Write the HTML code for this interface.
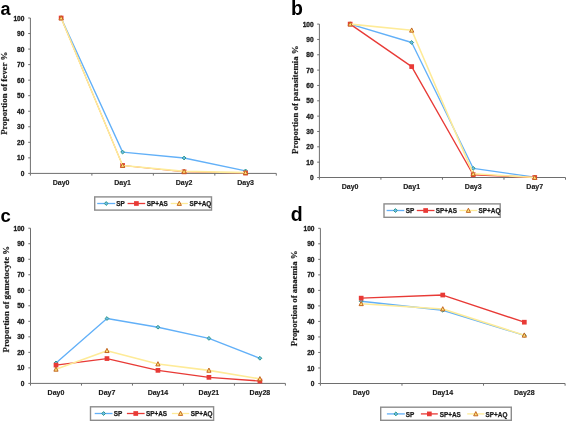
<!DOCTYPE html>
<html><head><meta charset="utf-8"><style>
html,body{margin:0;padding:0;background:#fff;width:567px;height:422px;overflow:hidden}
svg{display:block;will-change:transform}
.yl{font-family:"Liberation Sans",sans-serif;font-weight:bold;font-size:6.6px;fill:#1a1a1a;stroke:#1a1a1a;stroke-width:0.3px;text-anchor:end}
.xl{font-family:"Liberation Sans",sans-serif;font-weight:bold;font-size:7px;fill:#1a1a1a;stroke:#1a1a1a;stroke-width:0.15px;text-anchor:middle}
.lg{font-family:"Liberation Sans",sans-serif;font-weight:bold;font-size:6.4px;fill:#1a1a1a;stroke:#1a1a1a;stroke-width:0.25px}
.pl{font-family:"Liberation Sans",sans-serif;font-weight:bold;font-size:19.5px;fill:#000}
.ti{font-family:"Liberation Serif",serif;font-weight:bold;font-size:8.8px;fill:#1a1a1a;stroke:#1a1a1a;stroke-width:0.2px;text-anchor:middle}
</style></head><body>
<svg width="567" height="422" viewBox="0 0 567 422">
<path d="M30.40 18.00V173.40H276.30" fill="none" stroke="#6e6e6e" stroke-width="1"/>
<path d="M28.20 173.40H30.40 M28.20 157.86H30.40 M28.20 142.32H30.40 M28.20 126.78H30.40 M28.20 111.24H30.40 M28.20 95.70H30.40 M28.20 80.16H30.40 M28.20 64.62H30.40 M28.20 49.08H30.40 M28.20 33.54H30.40 M28.20 18.00H30.40 M30.40 173.40V175.60 M91.88 173.40V175.60 M153.35 173.40V175.60 M214.83 173.40V175.60 M276.30 173.40V175.60" fill="none" stroke="#6e6e6e" stroke-width="1"/>
<text x="24.40" y="176.00" class="yl">0</text>
<text x="24.40" y="160.46" class="yl">10</text>
<text x="24.40" y="144.92" class="yl">20</text>
<text x="24.40" y="129.38" class="yl">30</text>
<text x="24.40" y="113.84" class="yl">40</text>
<text x="24.40" y="98.30" class="yl">50</text>
<text x="24.40" y="82.76" class="yl">60</text>
<text x="24.40" y="67.22" class="yl">70</text>
<text x="24.40" y="51.68" class="yl">80</text>
<text x="24.40" y="36.14" class="yl">90</text>
<text x="24.40" y="20.60" class="yl">100</text>
<text x="61.14" y="185.20" class="xl">Day0</text>
<text x="122.61" y="185.20" class="xl">Day1</text>
<text x="184.09" y="185.20" class="xl">Day2</text>
<text x="245.56" y="185.20" class="xl">Day3</text>
<path d="M61.14 18.00 L122.61 152.11 L184.09 158.02 L245.56 170.91" fill="none" stroke="#62b0f8" stroke-width="1.35" stroke-linejoin="round"/>
<path d="M61.14 16.10L63.04 18.00L61.14 19.90L59.24 18.00Z" fill="#6cb8f0" stroke="#2f9a86" stroke-width="1.0"/>
<path d="M122.61 150.21L124.51 152.11L122.61 154.01L120.71 152.11Z" fill="#6cb8f0" stroke="#2f9a86" stroke-width="1.0"/>
<path d="M184.09 156.12L185.99 158.02L184.09 159.92L182.19 158.02Z" fill="#6cb8f0" stroke="#2f9a86" stroke-width="1.0"/>
<path d="M245.56 169.01L247.46 170.91L245.56 172.81L243.66 170.91Z" fill="#6cb8f0" stroke="#2f9a86" stroke-width="1.0"/>
<path d="M61.14 18.00 L122.61 165.47 L184.09 171.85 L245.56 173.09" fill="none" stroke="#e83a36" stroke-width="0.9" stroke-linejoin="round"/>
<rect x="58.79" y="15.65" width="4.70" height="4.70" fill="#e83a36"/>
<rect x="120.26" y="163.12" width="4.70" height="4.70" fill="#e83a36"/>
<rect x="181.74" y="169.50" width="4.70" height="4.70" fill="#e83a36"/>
<rect x="243.21" y="170.74" width="4.70" height="4.70" fill="#e83a36"/>
<path d="M61.14 18.00 L122.61 165.47 L184.09 171.38 L245.56 172.62" fill="none" stroke="#feeb98" stroke-width="1.6" stroke-linejoin="round"/>
<path d="M61.14 15.70L63.24 19.90L59.04 19.90Z" fill="#fde27a" stroke="#c0601a" stroke-width="0.95" stroke-linejoin="round"/>
<path d="M122.61 163.17L124.71 167.37L120.51 167.37Z" fill="#fde27a" stroke="#c0601a" stroke-width="0.95" stroke-linejoin="round"/>
<path d="M184.09 169.08L186.19 173.28L181.99 173.28Z" fill="#fde27a" stroke="#c0601a" stroke-width="0.95" stroke-linejoin="round"/>
<path d="M245.56 170.32L247.66 174.52L243.46 174.52Z" fill="#fde27a" stroke="#c0601a" stroke-width="0.95" stroke-linejoin="round"/>
<rect x="94.70" y="196.90" width="116.80" height="13.20" fill="#fff" stroke="#8c8c8c" stroke-width="1.4"/>
<path d="M97.20 203.50H115.20" stroke="#62b0f8" stroke-width="1.3"/>
<path d="M106.20 201.60L108.10 203.50L106.20 205.40L104.30 203.50Z" fill="#6cb8f0" stroke="#2f9a86" stroke-width="1.0"/>
<text x="116.30" y="206.30" class="lg">SP</text>
<path d="M127.60 203.50H145.20" stroke="#e83a36" stroke-width="1.3"/>
<rect x="134.05" y="201.15" width="4.70" height="4.70" fill="#e83a36"/>
<text x="146.70" y="206.30" class="lg">SP+AS</text>
<path d="M170.70 203.50H187.90" stroke="#feeb98" stroke-width="1.3"/>
<path d="M179.30 201.20L181.40 205.40L177.20 205.40Z" fill="#fde27a" stroke="#c0601a" stroke-width="0.95" stroke-linejoin="round"/>
<text x="189.40" y="206.30" class="lg">SP+AQ</text>
<text x="0.50" y="15.00" class="pl" style="font-size:18px">a</text>
<text transform="translate(7.20 93.30) rotate(-90)" x="0" y="0" class="ti">Proportion of fever %</text>
<path d="M319.40 24.10V177.50H565.50" fill="none" stroke="#6e6e6e" stroke-width="1"/>
<path d="M317.20 177.50H319.40 M317.20 162.16H319.40 M317.20 146.82H319.40 M317.20 131.48H319.40 M317.20 116.14H319.40 M317.20 100.80H319.40 M317.20 85.46H319.40 M317.20 70.12H319.40 M317.20 54.78H319.40 M317.20 39.44H319.40 M317.20 24.10H319.40 M319.40 177.50V179.70 M380.92 177.50V179.70 M442.45 177.50V179.70 M503.98 177.50V179.70 M565.50 177.50V179.70" fill="none" stroke="#6e6e6e" stroke-width="1"/>
<text x="313.70" y="180.10" class="yl">0</text>
<text x="313.70" y="164.76" class="yl">10</text>
<text x="313.70" y="149.42" class="yl">20</text>
<text x="313.70" y="134.08" class="yl">30</text>
<text x="313.70" y="118.74" class="yl">40</text>
<text x="313.70" y="103.40" class="yl">50</text>
<text x="313.70" y="88.06" class="yl">60</text>
<text x="313.70" y="72.72" class="yl">70</text>
<text x="313.70" y="57.38" class="yl">80</text>
<text x="313.70" y="42.04" class="yl">90</text>
<text x="313.70" y="26.70" class="yl">100</text>
<text x="350.16" y="189.20" class="xl">Day0</text>
<text x="411.69" y="189.20" class="xl">Day1</text>
<text x="473.21" y="189.20" class="xl">Day3</text>
<text x="534.74" y="189.20" class="xl">Day7</text>
<path d="M350.16 24.10 L411.69 42.51 L473.21 168.30 L534.74 177.19" fill="none" stroke="#62b0f8" stroke-width="1.35" stroke-linejoin="round"/>
<path d="M350.16 22.20L352.06 24.10L350.16 26.00L348.26 24.10Z" fill="#6cb8f0" stroke="#2f9a86" stroke-width="1.0"/>
<path d="M411.69 40.61L413.59 42.51L411.69 44.41L409.79 42.51Z" fill="#6cb8f0" stroke="#2f9a86" stroke-width="1.0"/>
<path d="M473.21 166.40L475.11 168.30L473.21 170.20L471.31 168.30Z" fill="#6cb8f0" stroke="#2f9a86" stroke-width="1.0"/>
<path d="M534.74 175.29L536.64 177.19L534.74 179.09L532.84 177.19Z" fill="#6cb8f0" stroke="#2f9a86" stroke-width="1.0"/>
<path d="M350.16 24.10 L411.69 66.59 L473.21 174.74 L534.74 177.50" fill="none" stroke="#e83a36" stroke-width="1.35" stroke-linejoin="round"/>
<rect x="347.81" y="21.75" width="4.70" height="4.70" fill="#e83a36"/>
<rect x="409.34" y="64.24" width="4.70" height="4.70" fill="#e83a36"/>
<rect x="470.86" y="172.39" width="4.70" height="4.70" fill="#e83a36"/>
<rect x="532.39" y="175.15" width="4.70" height="4.70" fill="#e83a36"/>
<path d="M350.16 24.10 L411.69 30.24 L473.21 173.82 L534.74 177.50" fill="none" stroke="#feeb98" stroke-width="1.6" stroke-linejoin="round"/>
<path d="M350.16 21.80L352.26 26.00L348.06 26.00Z" fill="#fde27a" stroke="#c0601a" stroke-width="0.95" stroke-linejoin="round"/>
<path d="M411.69 27.94L413.79 32.14L409.59 32.14Z" fill="#fde27a" stroke="#c0601a" stroke-width="0.95" stroke-linejoin="round"/>
<path d="M473.21 171.52L475.31 175.72L471.11 175.72Z" fill="#fde27a" stroke="#c0601a" stroke-width="0.95" stroke-linejoin="round"/>
<path d="M534.74 175.20L536.84 179.40L532.64 179.40Z" fill="#fde27a" stroke="#c0601a" stroke-width="0.95" stroke-linejoin="round"/>
<rect x="384.00" y="203.90" width="116.20" height="13.40" fill="#fff" stroke="#8c8c8c" stroke-width="1.4"/>
<path d="M386.60 210.50H404.30" stroke="#62b0f8" stroke-width="1.3"/>
<path d="M395.45 208.60L397.35 210.50L395.45 212.40L393.55 210.50Z" fill="#6cb8f0" stroke="#2f9a86" stroke-width="1.0"/>
<text x="405.70" y="213.30" class="lg">SP</text>
<path d="M416.80 210.50H434.50" stroke="#e83a36" stroke-width="1.3"/>
<rect x="423.30" y="208.15" width="4.70" height="4.70" fill="#e83a36"/>
<text x="435.80" y="213.30" class="lg">SP+AS</text>
<path d="M459.50 210.50H477.30" stroke="#feeb98" stroke-width="1.3"/>
<path d="M468.40 208.20L470.50 212.40L466.30 212.40Z" fill="#fde27a" stroke="#c0601a" stroke-width="0.95" stroke-linejoin="round"/>
<text x="478.60" y="213.30" class="lg">SP+AQ</text>
<text x="290.90" y="14.60" class="pl" style="font-size:19.5px">b</text>
<text transform="translate(298.20 99.70) rotate(-90)" x="0" y="0" class="ti">Proportion of parasitemia %</text>
<path d="M30.50 228.20V383.40H285.40" fill="none" stroke="#6e6e6e" stroke-width="1"/>
<path d="M28.30 383.40H30.50 M28.30 367.88H30.50 M28.30 352.36H30.50 M28.30 336.84H30.50 M28.30 321.32H30.50 M28.30 305.80H30.50 M28.30 290.28H30.50 M28.30 274.76H30.50 M28.30 259.24H30.50 M28.30 243.72H30.50 M28.30 228.20H30.50 M30.50 383.40V385.60 M81.48 383.40V385.60 M132.46 383.40V385.60 M183.44 383.40V385.60 M234.42 383.40V385.60 M285.40 383.40V385.60" fill="none" stroke="#6e6e6e" stroke-width="1"/>
<text x="24.50" y="386.00" class="yl">0</text>
<text x="24.50" y="370.48" class="yl">10</text>
<text x="24.50" y="354.96" class="yl">20</text>
<text x="24.50" y="339.44" class="yl">30</text>
<text x="24.50" y="323.92" class="yl">40</text>
<text x="24.50" y="308.40" class="yl">50</text>
<text x="24.50" y="292.88" class="yl">60</text>
<text x="24.50" y="277.36" class="yl">70</text>
<text x="24.50" y="261.84" class="yl">80</text>
<text x="24.50" y="246.32" class="yl">90</text>
<text x="24.50" y="230.80" class="yl">100</text>
<text x="55.99" y="395.20" class="xl">Day0</text>
<text x="106.97" y="395.20" class="xl">Day7</text>
<text x="157.95" y="395.20" class="xl">Day14</text>
<text x="208.93" y="395.20" class="xl">Day21</text>
<text x="259.91" y="395.20" class="xl">Day28</text>
<path d="M55.99 362.91 L106.97 318.53 L157.95 327.22 L208.93 338.39 L259.91 358.26" fill="none" stroke="#62b0f8" stroke-width="1.35" stroke-linejoin="round"/>
<path d="M55.99 361.01L57.89 362.91L55.99 364.81L54.09 362.91Z" fill="#6cb8f0" stroke="#2f9a86" stroke-width="1.0"/>
<path d="M106.97 316.63L108.87 318.53L106.97 320.43L105.07 318.53Z" fill="#6cb8f0" stroke="#2f9a86" stroke-width="1.0"/>
<path d="M157.95 325.32L159.85 327.22L157.95 329.12L156.05 327.22Z" fill="#6cb8f0" stroke="#2f9a86" stroke-width="1.0"/>
<path d="M208.93 336.49L210.83 338.39L208.93 340.29L207.03 338.39Z" fill="#6cb8f0" stroke="#2f9a86" stroke-width="1.0"/>
<path d="M259.91 356.36L261.81 358.26L259.91 360.16L258.01 358.26Z" fill="#6cb8f0" stroke="#2f9a86" stroke-width="1.0"/>
<path d="M55.99 365.09 L106.97 358.57 L157.95 370.36 L208.93 377.35 L259.91 381.07" fill="none" stroke="#e83a36" stroke-width="1.35" stroke-linejoin="round"/>
<rect x="53.64" y="362.74" width="4.70" height="4.70" fill="#e83a36"/>
<rect x="104.62" y="356.22" width="4.70" height="4.70" fill="#e83a36"/>
<rect x="155.60" y="368.01" width="4.70" height="4.70" fill="#e83a36"/>
<rect x="206.58" y="375.00" width="4.70" height="4.70" fill="#e83a36"/>
<rect x="257.56" y="378.72" width="4.70" height="4.70" fill="#e83a36"/>
<path d="M55.99 369.28 L106.97 350.65 L157.95 364.00 L208.93 370.36 L259.91 378.90" fill="none" stroke="#feeb98" stroke-width="1.6" stroke-linejoin="round"/>
<path d="M55.99 366.98L58.09 371.18L53.89 371.18Z" fill="#fde27a" stroke="#c0601a" stroke-width="0.95" stroke-linejoin="round"/>
<path d="M106.97 348.35L109.07 352.55L104.87 352.55Z" fill="#fde27a" stroke="#c0601a" stroke-width="0.95" stroke-linejoin="round"/>
<path d="M157.95 361.70L160.05 365.90L155.85 365.90Z" fill="#fde27a" stroke="#c0601a" stroke-width="0.95" stroke-linejoin="round"/>
<path d="M208.93 368.06L211.03 372.26L206.83 372.26Z" fill="#fde27a" stroke="#c0601a" stroke-width="0.95" stroke-linejoin="round"/>
<path d="M259.91 376.60L262.01 380.80L257.81 380.80Z" fill="#fde27a" stroke="#c0601a" stroke-width="0.95" stroke-linejoin="round"/>
<rect x="90.50" y="406.80" width="123.10" height="13.50" fill="#fff" stroke="#8c8c8c" stroke-width="1.4"/>
<path d="M94.70 413.50H112.50" stroke="#62b0f8" stroke-width="1.3"/>
<path d="M103.60 411.60L105.50 413.50L103.60 415.40L101.70 413.50Z" fill="#6cb8f0" stroke="#2f9a86" stroke-width="1.0"/>
<text x="113.70" y="416.30" class="lg">SP</text>
<path d="M126.90 413.50H144.60" stroke="#e83a36" stroke-width="1.3"/>
<rect x="133.40" y="411.15" width="4.70" height="4.70" fill="#e83a36"/>
<text x="146.00" y="416.30" class="lg">SP+AS</text>
<path d="M171.90 413.50H189.20" stroke="#feeb98" stroke-width="1.3"/>
<path d="M180.55 411.20L182.65 415.40L178.45 415.40Z" fill="#fde27a" stroke="#c0601a" stroke-width="0.95" stroke-linejoin="round"/>
<text x="190.70" y="416.30" class="lg">SP+AQ</text>
<text x="0.50" y="221.80" class="pl" style="font-size:18.5px">c</text>
<text transform="translate(9.10 299.20) rotate(-90)" x="0" y="0" class="ti">Proportion of gametocyte %</text>
<path d="M320.40 228.30V383.50H565.10" fill="none" stroke="#6e6e6e" stroke-width="1"/>
<path d="M318.20 383.50H320.40 M318.20 367.98H320.40 M318.20 352.46H320.40 M318.20 336.94H320.40 M318.20 321.42H320.40 M318.20 305.90H320.40 M318.20 290.38H320.40 M318.20 274.86H320.40 M318.20 259.34H320.40 M318.20 243.82H320.40 M318.20 228.30H320.40 M320.40 383.50V385.70 M401.97 383.50V385.70 M483.53 383.50V385.70 M565.10 383.50V385.70" fill="none" stroke="#6e6e6e" stroke-width="1"/>
<text x="314.50" y="386.10" class="yl">0</text>
<text x="314.50" y="370.58" class="yl">10</text>
<text x="314.50" y="355.06" class="yl">20</text>
<text x="314.50" y="339.54" class="yl">30</text>
<text x="314.50" y="324.02" class="yl">40</text>
<text x="314.50" y="308.50" class="yl">50</text>
<text x="314.50" y="292.98" class="yl">60</text>
<text x="314.50" y="277.46" class="yl">70</text>
<text x="314.50" y="261.94" class="yl">80</text>
<text x="314.50" y="246.42" class="yl">90</text>
<text x="314.50" y="230.90" class="yl">100</text>
<text x="361.18" y="395.20" class="xl">Day0</text>
<text x="442.75" y="395.20" class="xl">Day14</text>
<text x="524.32" y="395.20" class="xl">Day28</text>
<path d="M361.18 301.24 L442.75 310.25 L524.32 335.39" fill="none" stroke="#62b0f8" stroke-width="1.35" stroke-linejoin="round"/>
<path d="M361.18 299.34L363.08 301.24L361.18 303.14L359.28 301.24Z" fill="#6cb8f0" stroke="#2f9a86" stroke-width="1.0"/>
<path d="M442.75 308.35L444.65 310.25L442.75 312.15L440.85 310.25Z" fill="#6cb8f0" stroke="#2f9a86" stroke-width="1.0"/>
<path d="M524.32 333.49L526.22 335.39L524.32 337.29L522.42 335.39Z" fill="#6cb8f0" stroke="#2f9a86" stroke-width="1.0"/>
<path d="M361.18 298.14 L442.75 295.04 L524.32 322.20" fill="none" stroke="#e83a36" stroke-width="1.35" stroke-linejoin="round"/>
<rect x="358.83" y="295.79" width="4.70" height="4.70" fill="#e83a36"/>
<rect x="440.40" y="292.69" width="4.70" height="4.70" fill="#e83a36"/>
<rect x="521.97" y="319.85" width="4.70" height="4.70" fill="#e83a36"/>
<path d="M361.18 303.73 L442.75 309.00 L524.32 335.23" fill="none" stroke="#feeb98" stroke-width="1.6" stroke-linejoin="round"/>
<path d="M361.18 301.43L363.28 305.63L359.08 305.63Z" fill="#fde27a" stroke="#c0601a" stroke-width="0.95" stroke-linejoin="round"/>
<path d="M442.75 306.70L444.85 310.90L440.65 310.90Z" fill="#fde27a" stroke="#c0601a" stroke-width="0.95" stroke-linejoin="round"/>
<path d="M524.32 332.93L526.42 337.13L522.22 337.13Z" fill="#fde27a" stroke="#c0601a" stroke-width="0.95" stroke-linejoin="round"/>
<rect x="380.70" y="407.20" width="130.60" height="13.10" fill="#fff" stroke="#8c8c8c" stroke-width="1.4"/>
<path d="M386.90 413.90H404.80" stroke="#62b0f8" stroke-width="1.3"/>
<path d="M395.85 412.00L397.75 413.90L395.85 415.80L393.95 413.90Z" fill="#6cb8f0" stroke="#2f9a86" stroke-width="1.0"/>
<text x="405.80" y="416.70" class="lg">SP</text>
<path d="M420.90 413.90H437.80" stroke="#e83a36" stroke-width="1.3"/>
<rect x="427.00" y="411.55" width="4.70" height="4.70" fill="#e83a36"/>
<text x="439.70" y="416.70" class="lg">SP+AS</text>
<path d="M467.20 413.90H484.40" stroke="#feeb98" stroke-width="1.3"/>
<path d="M475.80 411.60L477.90 415.80L473.70 415.80Z" fill="#fde27a" stroke="#c0601a" stroke-width="0.95" stroke-linejoin="round"/>
<text x="485.60" y="416.70" class="lg">SP+AQ</text>
<text x="290.70" y="221.20" class="pl" style="font-size:19.5px">d</text>
<text transform="translate(297.30 298.30) rotate(-90)" x="0" y="0" class="ti">Proportion of anaemia %</text>
</svg>
</body></html>
